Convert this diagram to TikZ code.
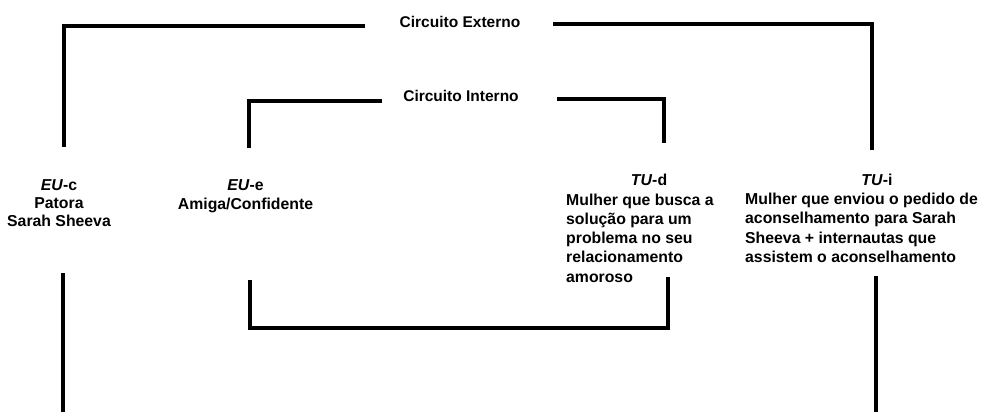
\documentclass[tikz,border=0pt]{standalone}
\usepackage{fontspec}
\setmainfont{Liberation Sans}

\begin{document}
\begin{tikzpicture}[x=1pt,y=-1pt,
  wire/.style={line width=4pt,line join=miter},
  circ/.style={font=\fontsize{15.5}{18}\selectfont\bfseries,inner sep=0pt},
  who/.style={font=\fontsize{15.8}{19.3}\selectfont\bfseries,inner sep=0pt}]
\path[use as bounding box] (0,0) rectangle (982,412);

% circuit labels
\node[circ] (ext) at (460,22) {Circuito Externo};
\node[circ] (int) at (461,96) {Circuito Interno};

% the four instances
\node[who,align=center,anchor=north,font=\fontsize{15.8}{18}\selectfont\bfseries] (euc) at (59,179.5) {\textit{EU}-c\\Patora\\Sarah Sheeva};
\node[who,align=center,anchor=north] (eue) at (245.5,179.5) {\textit{EU}-e\\Amiga/Confidente};
\node[who] (tud) at (649,180) {\textit{TU}-d};
\node[who,align=left,anchor=north west] (tudtxt) at (566,193.4) {Mulher que busca a\\solução para um\\problema no seu\\relacionamento\\amoroso};
\node[who] (tui) at (877,180) {\textit{TU}-i};
\node[who,align=left,anchor=north west] (tuitxt) at (745,193) {Mulher que enviou o pedido de\\aconselhamento para Sarah\\Sheeva + internautas que\\assistem o aconselhamento};

% outer circuit
\coordinate (e1) at (64,147);
\coordinate (e2) at (365,26);
\coordinate (e3) at (553,24);
\coordinate (e4) at (872,150);
\coordinate (e5) at (63,273);
\coordinate (e6) at (63,412);
\coordinate (e7) at (876,276);
\coordinate (e8) at (876,412);
\draw[wire] (e1) |- (e2);
\draw[wire] (e3) -| (e4);
\draw[wire] (e5) -- (e6);
\draw[wire] (e7) -- (e8);

% inner circuit
\coordinate (i1) at (249,148);
\coordinate (i2) at (382,101);
\coordinate (i3) at (557,99);
\coordinate (i4) at (664,143);
\coordinate (i5) at (250,280);
\coordinate (i6) at (668,328);
\coordinate (i7) at (668,277);
\draw[wire] (i1) |- (i2);
\draw[wire] (i3) -| (i4);
\draw[wire] (i5) |- (i6) -- (i7);
\end{tikzpicture}
\end{document}
